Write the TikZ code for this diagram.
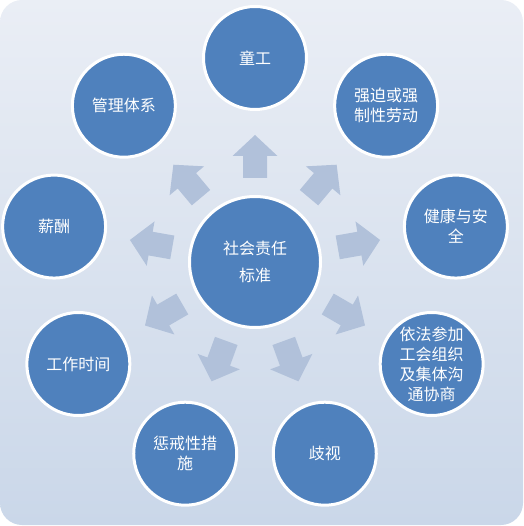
\documentclass[tikz,border=0pt]{standalone}
\usepackage{fontspec}
\setmainfont{Noto Sans CJK SC}
\usetikzlibrary{calc}
\definecolor{circblue}{RGB}{79,129,189}
\definecolor{arrowc}{RGB}{177,193,218}
\definecolor{bgtop}{RGB}{234,238,245}
\definecolor{bgbot}{RGB}{202,215,233}
\begin{document}
\begin{tikzpicture}[x=1pt,y=-1pt,
  ball/.style={circle, fill=circblue, draw=white, line width=3pt, inner sep=0pt,
    text=white, align=center},
  outer/.style={ball, minimum size=103pt, font=\fontsize{16}{20}\selectfont},
  hub/.style={ball, minimum size=131pt, font=\fontsize{16}{27}\selectfont},
  blockarrow/.style={fill=arrowc}]
\useasboundingbox (0,0) rectangle (523,526);
\shade[top color=bgtop, bottom color=bgbot, rounded corners=22pt] (0,0) rectangle (523,525);
\coordinate (o) at (255,262);
\foreach \a in {-90,-50,-10,30,70,110,150,190,230}
  \fill[blockarrow, shift={(o)}, rotate=-\a]
    (84,-12) -- (106,-12) -- (106,-22.5) -- (127,0) -- (106,22.5) -- (106,12) -- (84,12) -- cycle;
\node[hub] (c) at (o) {社会责任\\标准};
\node[outer] (n0) at ($(o)+(-90:204)$) {童工};
\node[outer] (n1) at ($(o)+(-50:204)$) {强迫或强\\制性劳动};
\node[outer] (n2) at ($(o)+(-10:204)$) {健康与安\\全};
\node[outer] (n3) at ($(o)+(30:204)$) {依法参加\\工会组织\\及集体沟\\通协商};
\node[outer] (n4) at ($(o)+(70:204)$) {歧视};
\node[outer] (n5) at ($(o)+(110:204)$) {惩戒性措\\施};
\node[outer] (n6) at ($(o)+(150:204)$) {工作时间};
\node[outer] (n7) at ($(o)+(190:204)$) {薪酬};
\node[outer] (n8) at ($(o)+(230:204)$) {管理体系};
\end{tikzpicture}
\end{document}
